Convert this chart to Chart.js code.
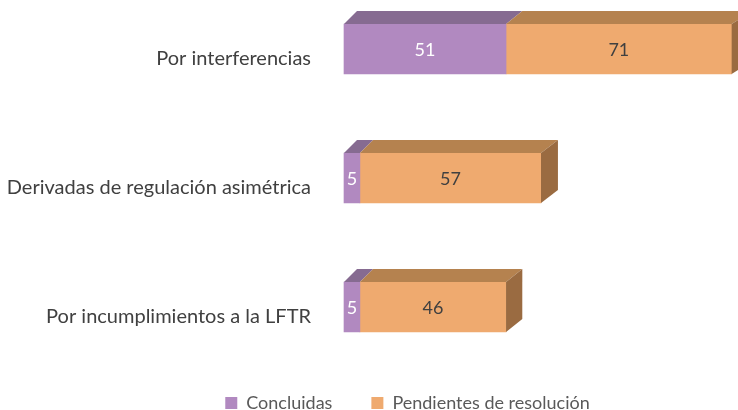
<!DOCTYPE html>
<html>
<head>
<meta charset="utf-8">
<script src="https://cdn.jsdelivr.net/npm/chart.js@4/dist/chart.umd.min.js"></script>
<style>
  html, body { margin: 0; padding: 0; background: #ffffff; }
  canvas { display: block; }
</style>
</head>
<body>
<canvas id="c" width="738" height="410"></canvas>
<script>
const categories = ['Por interferencias', 'Derivadas de regulación asimétrica', 'Por incumplimientos a la LFTR'];
const seriesNames = ['Concluidas', 'Pendientes de resolución'];
const concluidas = [51, 5, 5];
const pendientes = [71, 57, 46];

const FONT = 'Lato, "Open Sans", sans-serif';
const frontColors = ['#B189C0', '#EFAA6F'];
const topColors = ['#866B91', '#B5824F'];
const sideColors = ['#6E5878', '#9A6B41'];
const labelColors = ['#FFFFFF', '#404040'];

const DY = 13;
function depthX(px, area) { return 13 + 0.02 * (px - area.left); }

const threeD = {
  id: 'threeD',
  afterDatasetsDraw(chart) {
    const ctx = chart.ctx;
    const area = chart.chartArea;
    const n = chart.data.datasets.length;
    ctx.save();
    chart.data.datasets.forEach((ds, di) => {
      const meta = chart.getDatasetMeta(di);
      meta.data.forEach((el) => {
        const p = el.getProps(['x', 'y', 'base', 'height'], true);
        const left = Math.min(p.x, p.base), right = Math.max(p.x, p.base);
        const top = p.y - p.height / 2, bottom = p.y + p.height / 2;
        ctx.fillStyle = topColors[di];
        ctx.beginPath();
        ctx.moveTo(left, top);
        ctx.lineTo(right, top);
        ctx.lineTo(right + depthX(right, area), top - DY);
        ctx.lineTo(left + depthX(left, area), top - DY);
        ctx.closePath();
        ctx.fill();
        if (di === n - 1) {
          const d = depthX(right, area);
          ctx.fillStyle = sideColors[di];
          ctx.beginPath();
          ctx.moveTo(right, top);
          ctx.lineTo(right + d, top - DY);
          ctx.lineTo(right + d, bottom - DY);
          ctx.lineTo(right, bottom);
          ctx.closePath();
          ctx.fill();
        }
      });
    });
    ctx.font = '18px ' + FONT;
    ctx.textAlign = 'center';
    ctx.textBaseline = 'middle';
    chart.data.datasets.forEach((ds, di) => {
      const meta = chart.getDatasetMeta(di);
      meta.data.forEach((el, i) => {
        const p = el.getProps(['x', 'y', 'base'], true);
        ctx.fillStyle = labelColors[di];
        ctx.fillText(String(ds.data[i]), (p.x + p.base) / 2, p.y + 1);
      });
    });
    ctx.restore();
  }
};

new Chart(document.getElementById('c'), {
  type: 'bar',
  data: {
    labels: categories,
    datasets: [
      { label: seriesNames[0], data: concluidas, backgroundColor: frontColors[0], barThickness: 50, clip: false },
      { label: seriesNames[1], data: pendientes, backgroundColor: frontColors[1], barThickness: 50, clip: false }
    ]
  },
  options: {
    indexAxis: 'y',
    responsive: false,
    animation: false,
    layout: { padding: { top: 49, left: 0, right: -77, bottom: -12 } },
    scales: {
      x: {
        stacked: true,
        min: 0,
        max: 124,
        display: true,
        grid: { display: false, drawTicks: false },
        border: { display: false },
        ticks: { display: false },
        afterFit(s) { s.height = 48; }
      },
      y: {
        stacked: true,
        offset: false,
        grid: { display: false, drawTicks: false },
        border: { display: false },
        ticks: { color: '#404040', font: { family: FONT, size: 20 }, padding: 33, labelOffset: 10 },
        afterFit(s) { s.width = 344; }
      }
    },
    plugins: {
      legend: {
        position: 'bottom',
        labels: {
          color: '#595959',
          font: { family: FONT, size: 18 },
          boxWidth: 12,
          boxHeight: 12,
          padding: 39
        }
      },
      tooltip: { enabled: false }
    }
  },
  plugins: [threeD]
});
</script>
</body>
</html>
